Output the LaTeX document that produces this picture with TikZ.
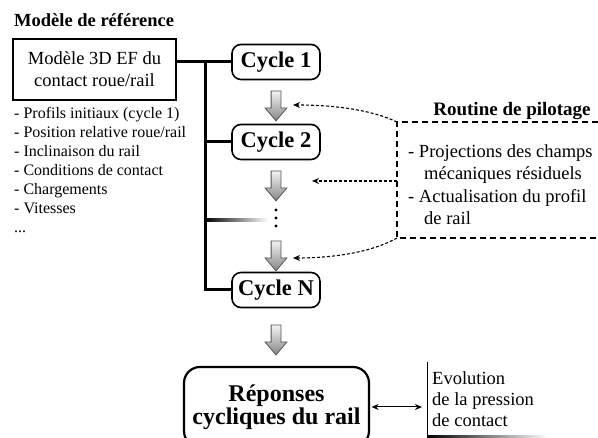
\documentclass[tikz,border=0pt]{standalone}
\usepackage{fontspec}
\setmainfont{Liberation Serif}
\usetikzlibrary{arrows.meta, positioning, shapes.arrows}
\definecolor{FlowLight}{HTML}{F4F4F4}
\definecolor{FlowDark}{HTML}{858585}
\definecolor{FlowEdge}{HTML}{555555}
\colorlet{SpineColor}{black}
\colorlet{PilotColor}{black}

\begin{document}
\begin{tikzpicture}[x=1pt, y=-1pt,
    cycbox/.style={draw, line width=1.6pt, rounded corners=9pt, minimum width=88pt, minimum height=35pt, inner sep=0pt, font=\bfseries\fontsize{22.5}{24}\selectfont},
    flow/.style={single arrow, shape border rotate=270, draw=FlowEdge, line width=0.8pt, top color=FlowLight, bottom color=FlowDark, minimum height=30pt, inner sep=4.5pt, single arrow head extend=6pt, single arrow tip angle=80},
    spine/.style={draw=SpineColor, line width=3pt},
    pilotarrow/.style={draw=PilotColor, densely dashed, line width=1.1pt, -{Stealth[length=7pt,width=6pt]}}]

    \useasboundingbox (0,0) rectangle (598,438);

    % Reference model
    \node[anchor=base west, inner sep=0pt, font=\bfseries\fontsize{18.5}{22}\selectfont] (reftitle) at (14,27) {Modèle de référence};
    \node[draw, line width=1.5pt, minimum width=163pt, minimum height=61pt, align=center, font=\fontsize{18.5}{22}\selectfont] (model) at (94.5,69.5) {Modèle 3D EF du\\contact roue/rail};
    % base anchor sits on the last line
    \node[anchor=base west, align=left, inner sep=0pt, font=\fontsize{16}{19}\selectfont] (inputs) at (14,233) {- Profils initiaux (cycle 1)\\- Position relative roue/rail\\- Inclinaison du rail\\- Conditions de contact\\- Chargements\\- Vitesses\\...};

    % Cycles
    \node[cycbox] (cyc1) at (276,62) {Cycle 1};
    \node[cycbox] (cyc2) at (276,142) {Cycle 2};
    \node[cycbox] (cycN) at (276,290) {Cycle N};
    \node[flow] (fl1) at (276,103) {};
    \node[flow] (fl2) at (276,183) {};
    \node[flow] (fl3) at (276,253) {};
    \node[flow] (fl4) at (276,337) {};
    \foreach \yy in {210,218,226}
        \fill (276,\yy) circle (1.6);

    % Spine
    \coordinate (sptop) at (205,62);
    \coordinate (spbot) at (205,290);
    \draw[spine] (model.east |- cyc1.west) -- (cyc1.west);
    \draw[spine] (sptop) -- (spbot) -- (cycN.west);
    \draw[spine] (sptop |- cyc2.west) -- (cyc2.west);
    \shade[left color=black, right color=white] (205,218.5) rectangle (268,221.5);

    % Routine de pilotage
    \node[anchor=base, inner sep=0pt, font=\bfseries\fontsize{19}{22}\selectfont] (pilottitle) at (512,116) {Routine de pilotage};
    \coordinate (frtl) at (397,122);
    \coordinate (frml) at (397,181);
    \coordinate (frbl) at (397,238);
    \draw[line width=2.2pt, dash pattern=on 6pt off 4pt] (598,122) -- (frtl) -- (frbl) -- (598,238);
    \node[anchor=base west, align=left, inner sep=0pt, font=\fontsize{18.5}{22.5}\selectfont] (pilottext) at (408,225) {- Projections des champs\\\hspace*{16pt}mécaniques résiduels\\- Actualisation du profil\\\hspace*{16pt}de rail};
    \coordinate (tipA) at (293,105);
    \coordinate (tipB) at (312,181);
    \coordinate (tipC) at (293,258);
    \draw[pilotarrow] (frtl) .. controls (372,110) and (335,105) .. (tipA);
    \draw[pilotarrow] (frml) -- (tipB);
    \draw[pilotarrow] (frbl) .. controls (372,252) and (335,258) .. (tipC);

    % Responses
    \node[draw, line width=2.2pt, rounded corners=16pt, minimum width=185pt, minimum height=80pt, align=center, font=\bfseries\fontsize{24}{21.5}\selectfont] (rep) at (276.5,407) {Réponses\\cycliques du rail};
    \coordinate (evotop) at (427,362);
    \coordinate (evobot) at (427,437);
    \draw[line width=1pt] (evotop) -- (evobot);
    \shade[left color=black, right color=white] (427,436) rectangle (548,437.6);
    \node[anchor=base west, align=left, inner sep=0pt, font=\fontsize{18.5}{21}\selectfont] (evo) at (432,427) {Evolution\\de la pression\\de contact};
    \draw[line width=1pt, {Stealth[length=7pt,width=6pt]}-{Stealth[length=7pt,width=6pt]}, shorten <=1.5pt, shorten >=5pt] (rep.east) -- (rep.east -| evotop);

\end{tikzpicture}
\end{document}
